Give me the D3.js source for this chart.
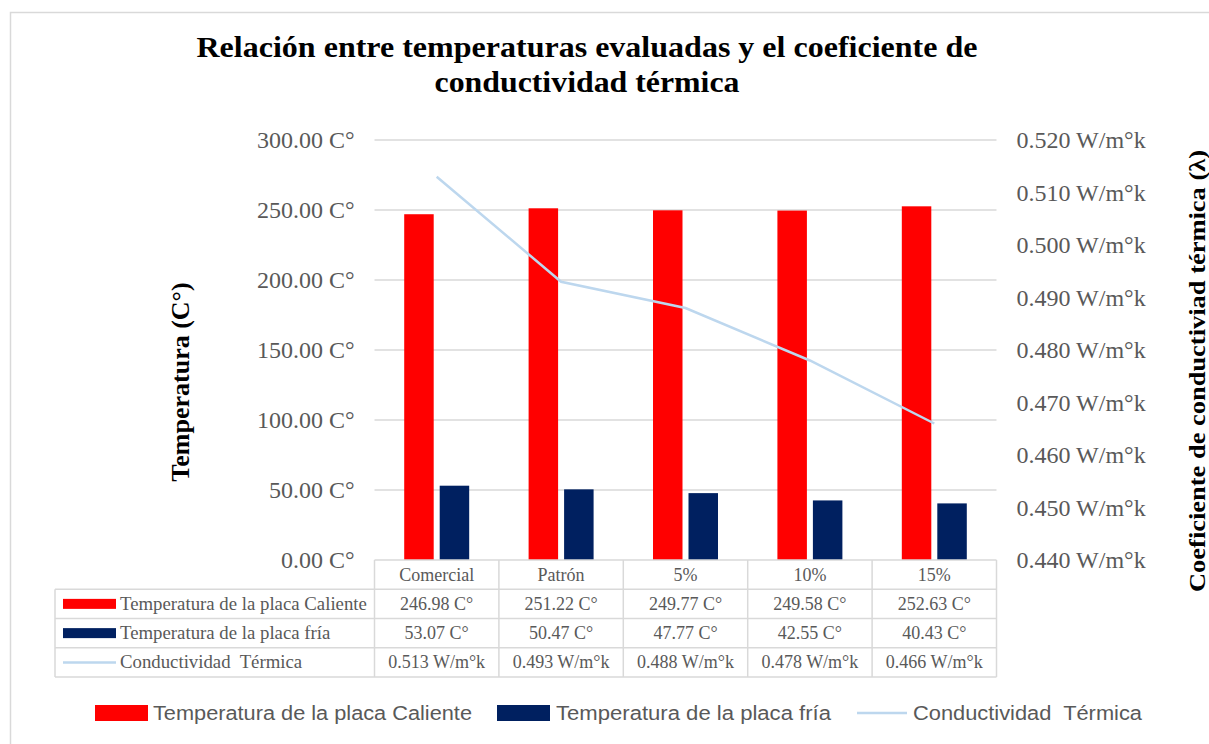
<!DOCTYPE html>
<html>
<head>
<meta charset="utf-8">
<script src="https://cdn.jsdelivr.net/npm/d3@7"></script>
<style>
  html, body { margin: 0; padding: 0; background: #fff; }
  svg { display: block; }
  text { white-space: pre; }
</style>
</head>
<body>
<script>
// Data
const categories = ["Comercial", "Patrón", "5%", "10%", "15%"];
const placaCaliente = [246.98, 251.22, 249.77, 249.58, 252.63];
const placaFria = [53.07, 50.47, 47.77, 42.55, 40.43];
const conductividad = [0.513, 0.493, 0.488, 0.478, 0.466];
const tempTicks = [0, 50, 100, 150, 200, 250, 300];
const condTicks = [0.44, 0.45, 0.46, 0.47, 0.48, 0.49, 0.50, 0.51, 0.52];
const seriesNames = ["Temperatura de la placa Caliente", "Temperatura de la placa fría", "Conductividad  Térmica"];
const titleLines = ["Relación entre temperaturas evaluadas y el coeficiente de", "conductividad térmica"];

const W = 1209, H = 744;
const RED = "#ff0000", NAVY = "#002060", LINE = "#bdd7ee";
const GRID = "#d9d9d9", TXT = "#595959";
const SERIF = "'Liberation Serif', 'Times New Roman', serif";
const SANS = "'Liberation Sans', Arial, sans-serif";

const svg = d3.select("body").append("svg").attr("width", W).attr("height", H);

// Outer frame
svg.append("rect").attr("x", 10.5).attr("y", 12.5).attr("width", W + 20).attr("height", H + 20)
  .attr("fill", "#fff").attr("stroke", GRID).attr("stroke-width", 1.5);

// Plot area
const plotL = 374.5, plotR = 996.5, plotT = 140, plotB = 560;
const x = d3.scaleBand().domain(categories).range([plotL, plotR]).padding(0);
const y = d3.scaleLinear().domain([0, 300]).range([plotB, plotT]);
const y2 = d3.scaleLinear().domain([0.44, 0.52]).range([plotB, plotT]);
const xi = d3.scaleBand().domain(["c", "f"]).range([0, x.bandwidth()])
  .paddingInner(0.169).paddingOuter(0.837);

// Title
svg.append("g").selectAll("text").data(titleLines).join("text")
  .attr("x", 587).attr("y", (d, i) => 57 + i * 35)
  .attr("text-anchor", "middle")
  .attr("font-family", SERIF).attr("font-weight", "bold").attr("font-size", 29.5)
  .attr("textLength", (d, i) => i === 0 ? 781 : 305).attr("lengthAdjust", "spacingAndGlyphs")
  .attr("fill", "#000").text(d => d);

// Gridlines
svg.append("g").selectAll("line").data(tempTicks.filter(t => t > 0)).join("line")
  .attr("x1", plotL).attr("x2", plotR)
  .attr("y1", d => y(d)).attr("y2", d => y(d))
  .attr("stroke", GRID).attr("stroke-width", 1.5);

// Left axis
const yAxis = svg.append("g").attr("transform", `translate(${plotL},0)`)
  .call(d3.axisLeft(y).tickValues(tempTicks).tickSize(0).tickPadding(20)
    .tickFormat(d => d3.format(".2f")(d) + " C°"));
yAxis.select(".domain").remove();
yAxis.selectAll("text").attr("font-family", SERIF).attr("font-size", 24).attr("fill", TXT);

// Right axis
const y2Axis = svg.append("g").attr("transform", `translate(${plotR},0)`)
  .call(d3.axisRight(y2).tickValues(condTicks).tickSize(0).tickPadding(20)
    .tickFormat(d => d3.format(".3f")(d) + " W/m°k"));
y2Axis.select(".domain").remove();
y2Axis.selectAll("text").attr("font-family", SERIF).attr("font-size", 24).attr("fill", TXT);

// Axis titles
svg.append("text").attr("transform", "translate(189,382) rotate(-90)")
  .attr("text-anchor", "middle").attr("font-family", SERIF).attr("font-weight", "bold")
  .attr("font-size", 26).attr("fill", "#000").text("Temperatura (C°)");
svg.append("text").attr("transform", "translate(1205,371) rotate(-90)")
  .attr("text-anchor", "middle").attr("font-family", SERIF).attr("font-weight", "bold")
  .attr("font-size", 24).attr("textLength", 442).attr("lengthAdjust", "spacingAndGlyphs")
  .attr("fill", "#000").text("Coeficiente de conductiviad térmica (λ)");

// Bars
const groups = svg.append("g").selectAll("g").data(categories).join("g")
  .attr("transform", d => `translate(${x(d)},0)`);
groups.append("rect")
  .attr("x", xi("c")).attr("width", xi.bandwidth())
  .attr("y", (d, i) => y(placaCaliente[i])).attr("height", (d, i) => y(0) - y(placaCaliente[i]))
  .attr("fill", RED);
groups.append("rect")
  .attr("x", xi("f")).attr("width", xi.bandwidth())
  .attr("y", (d, i) => y(placaFria[i])).attr("height", (d, i) => y(0) - y(placaFria[i]))
  .attr("fill", NAVY);

// Conductivity line
const line = d3.line().x((d, i) => x(categories[i]) + x.bandwidth() / 2).y(d => y2(d));
svg.append("path").datum(conductividad).attr("d", line)
  .attr("fill", "none").attr("stroke", LINE).attr("stroke-width", 2.5);

// Data table
const rowH = (677 - plotB) / 4;
const tableLeft = 55;
const tbl = svg.append("g");
tbl.append("line").attr("x1", plotL).attr("x2", plotR).attr("y1", plotB).attr("y2", plotB)
  .attr("stroke", GRID).attr("stroke-width", 1.5);
[1, 2, 3, 4].forEach(r => {
  tbl.append("line").attr("x1", tableLeft).attr("x2", plotR)
    .attr("y1", plotB + r * rowH).attr("y2", plotB + r * rowH)
    .attr("stroke", GRID).attr("stroke-width", 1.5);
});
tbl.append("line").attr("x1", tableLeft).attr("x2", tableLeft)
  .attr("y1", plotB + rowH).attr("y2", plotB + 4 * rowH).attr("stroke", GRID).attr("stroke-width", 1.5);
d3.range(categories.length + 1).forEach(i => {
  const xx = plotL + i * x.step();
  tbl.append("line").attr("x1", xx).attr("x2", xx)
    .attr("y1", plotB).attr("y2", plotB + 4 * rowH).attr("stroke", GRID).attr("stroke-width", 1.5);
});
tbl.selectAll(".hdr").data(categories).join("text").attr("class", "hdr")
  .attr("x", d => x(d) + x.bandwidth() / 2).attr("y", plotB + rowH / 2 + 6)
  .attr("text-anchor", "middle").attr("font-family", SERIF).attr("font-size", 18).attr("fill", TXT)
  .text(d => d);
const rows = [
  { vals: placaCaliente, fmt: v => d3.format(".2f")(v) + " C°" },
  { vals: placaFria, fmt: v => d3.format(".2f")(v) + " C°" },
  { vals: conductividad, fmt: v => d3.format(".3f")(v) + " W/m°k" }
];
rows.forEach((r, ri) => {
  const cy = plotB + (ri + 1) * rowH + rowH / 2;
  tbl.append("g").selectAll("text").data(r.vals).join("text")
    .attr("x", (v, i) => x(categories[i]) + x.bandwidth() / 2).attr("y", cy + 6)
    .attr("text-anchor", "middle").attr("font-family", SERIF).attr("font-size", 18).attr("fill", TXT)
    .text(v => r.fmt(v));
  tbl.append("text").attr("x", 120).attr("y", cy + 6)
    .attr("font-family", SERIF).attr("font-size", 18.8).attr("fill", TXT).text(seriesNames[ri]);
  if (ri < 2) {
    tbl.append("rect").attr("x", 63).attr("y", cy - 5).attr("width", 53).attr("height", 10)
      .attr("fill", ri === 0 ? RED : NAVY);
  } else {
    tbl.append("line").attr("x1", 63).attr("x2", 116).attr("y1", cy).attr("y2", cy)
      .attr("stroke", LINE).attr("stroke-width", 2.5);
  }
});

// Legend
const legendItems = [
  { name: seriesNames[0], type: "rect", color: RED, kx: 95, tx: 153, tl: 319 },
  { name: seriesNames[1], type: "rect", color: NAVY, kx: 497, tx: 556, tl: 275 },
  { name: seriesNames[2], type: "line", color: LINE, kx: 857, tx: 913, tl: 229 }
];
const ly = 713;
const lg = svg.append("g");
legendItems.forEach(it => {
  if (it.type === "rect") {
    lg.append("rect").attr("x", it.kx).attr("y", ly - 8).attr("width", 53).attr("height", 16).attr("fill", it.color);
  } else {
    lg.append("line").attr("x1", it.kx).attr("x2", it.kx + 50).attr("y1", ly).attr("y2", ly)
      .attr("stroke", it.color).attr("stroke-width", 2.5);
  }
  lg.append("text").attr("x", it.tx).attr("y", ly + 7)
    .attr("font-family", SANS).attr("font-size", 20).attr("fill", TXT)
    .attr("textLength", it.tl).attr("lengthAdjust", "spacingAndGlyphs").text(it.name);
});
</script>
</body>
</html>
